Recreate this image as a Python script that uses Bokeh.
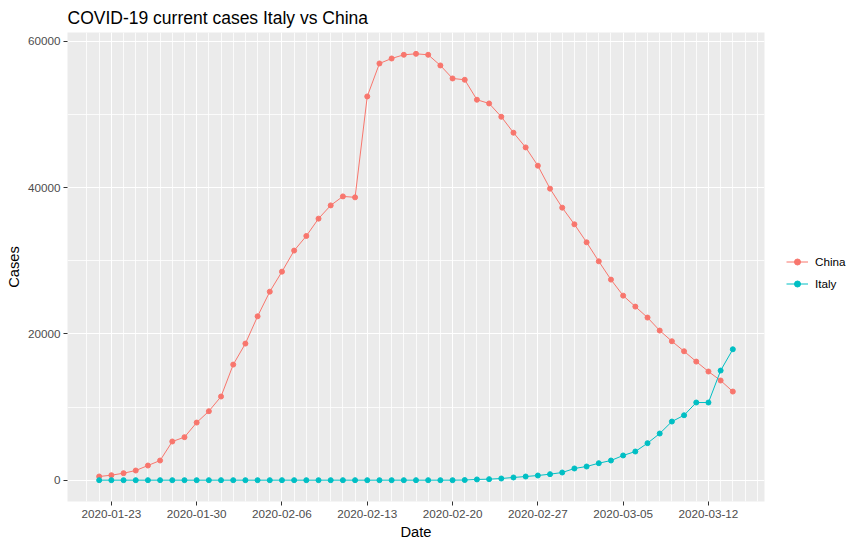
import pandas as pd
from bokeh.plotting import figure
from bokeh.models import (Range1d, FixedTicker, DatetimeTickFormatter,
                          NumeralTickFormatter, Legend, LegendItem)
from bokeh.embed import file_html
from bokeh.resources import INLINE

# ---- data ----
start_date = "2020-01-22"
n_days = 53
dates = pd.date_range(start_date, periods=n_days, freq="D")

china = [505, 683, 956, 1320, 2005, 2690, 5290, 5880, 7880, 9430,
         11440, 15810, 18680, 22410, 25780, 28520, 31400, 33400, 35770, 37580,
         38810, 38680, 52480, 56990, 57670, 58180, 58310, 58180, 56720, 54940,
         54760, 52030, 51520, 49700, 47520, 45510, 43010, 39870, 37270, 34990,
         32530, 29930, 27430, 25240, 23740, 22240, 20460, 19000, 17630, 16220,
         14860, 13630, 12120]

italy = [0] * 30 + [20, 100, 140, 230, 370, 500, 640, 820, 1050, 1600,
                    1870, 2320, 2690, 3380, 3920, 5060, 6380, 8020, 8880, 10620,
                    10620, 14990, 17900]

x_tick_labels = ["2020-01-23", "2020-01-30", "2020-02-06", "2020-02-13",
                 "2020-02-20", "2020-02-27", "2020-03-05", "2020-03-12"]
y_ticks = [0, 20000, 40000, 60000]
y_minor_ticks = [10000, 30000, 50000]

china_color = "#F8766D"
italy_color = "#00BFC4"
font = "Liberation Sans"

# ---- ranges (ggplot-like 5% expansion) ----
span = dates[-1] - dates[0]
x_pad = span * 0.05
ymin = min(min(china), min(italy))
ymax = max(max(china), max(italy))
y_pad = (ymax - ymin) * 0.05

p = figure(frame_width=697, frame_height=469,
           x_axis_type="datetime",
           x_range=Range1d(dates[0] - x_pad, dates[-1] + x_pad),
           y_range=Range1d(ymin - y_pad, ymax + y_pad),
           output_backend="svg", toolbar_location=None,
           title="COVID-19 current cases Italy vs China",
           x_axis_label="Date", y_axis_label="Cases")

p.min_border_left = 67
p.min_border_right = 88
p.min_border_top = 32
p.min_border_bottom = 36
p.background_fill_color = "#EBEBEB"
p.border_fill_color = "white"
p.outline_line_color = None

p.title.text_font = font
p.title.text_font_size = "17.5px"
p.title.text_font_style = "normal"
p.title.text_color = "black"
p.title.standoff = 9
p.title.offset = 0

# ticks
to_ms = lambda s: pd.Timestamp(s).value // 10**6
p.xaxis.ticker = FixedTicker(ticks=[to_ms(s) for s in x_tick_labels],
                             minor_ticks=[to_ms(d) for d in dates] +
                             [to_ms(dates[0] - pd.Timedelta(days=1))] +
                             [to_ms(dates[-1] + pd.Timedelta(days=1)),
                              to_ms(dates[-1] + pd.Timedelta(days=2))])
p.xaxis.formatter = DatetimeTickFormatter(days="%Y-%m-%d", months="%Y-%m-%d")
p.yaxis.ticker = FixedTicker(ticks=y_ticks, minor_ticks=y_minor_ticks)
p.yaxis.formatter = NumeralTickFormatter(format="0")

for ax in (p.xaxis, p.yaxis):
    ax.axis_line_color = None
    ax.major_tick_line_color = "#333333"
    ax.major_tick_in = 0
    ax.major_tick_out = 4
    ax.minor_tick_line_color = None
    ax.major_label_text_font = font
    ax.major_label_text_font_size = "11.7px"
    ax.major_label_text_color = "#4D4D4D"
    ax.axis_label_text_font = font
    ax.axis_label_text_font_size = "14.7px"
    ax.axis_label_text_font_style = "normal"
    ax.axis_label_text_color = "black"
p.xaxis.major_label_standoff = 4
p.xaxis.axis_label_standoff = 3
p.yaxis.major_label_standoff = 3
p.yaxis.axis_label_standoff = 3

for g in (p.xgrid, p.ygrid):
    g.grid_line_color = "white"
    g.grid_line_width = 1.1
    g.minor_grid_line_color = "white"
    g.minor_grid_line_width = 0.8

# ---- glyphs ----
cl = p.line(dates, china, line_color=china_color, line_width=1)
cs = p.scatter(dates, china, size=5, fill_color=china_color, line_color=china_color)
il = p.line(dates, italy, line_color=italy_color, line_width=1)
is_ = p.scatter(dates, italy, size=5, fill_color=italy_color, line_color=italy_color)

legend = Legend(items=[LegendItem(label="China", renderers=[cl, cs]),
                       LegendItem(label="Italy", renderers=[il, is_])],
                location=(22, 210),
                glyph_width=22, glyph_height=15, spacing=7,
                label_standoff=7, padding=0, margin=0,
                label_text_font=font, label_text_font_size="11.7px",
                label_text_color="black",
                border_line_color=None, background_fill_alpha=0)
p.add_layout(legend, "right")

open("out.html", "w").write(file_html(p, INLINE))
